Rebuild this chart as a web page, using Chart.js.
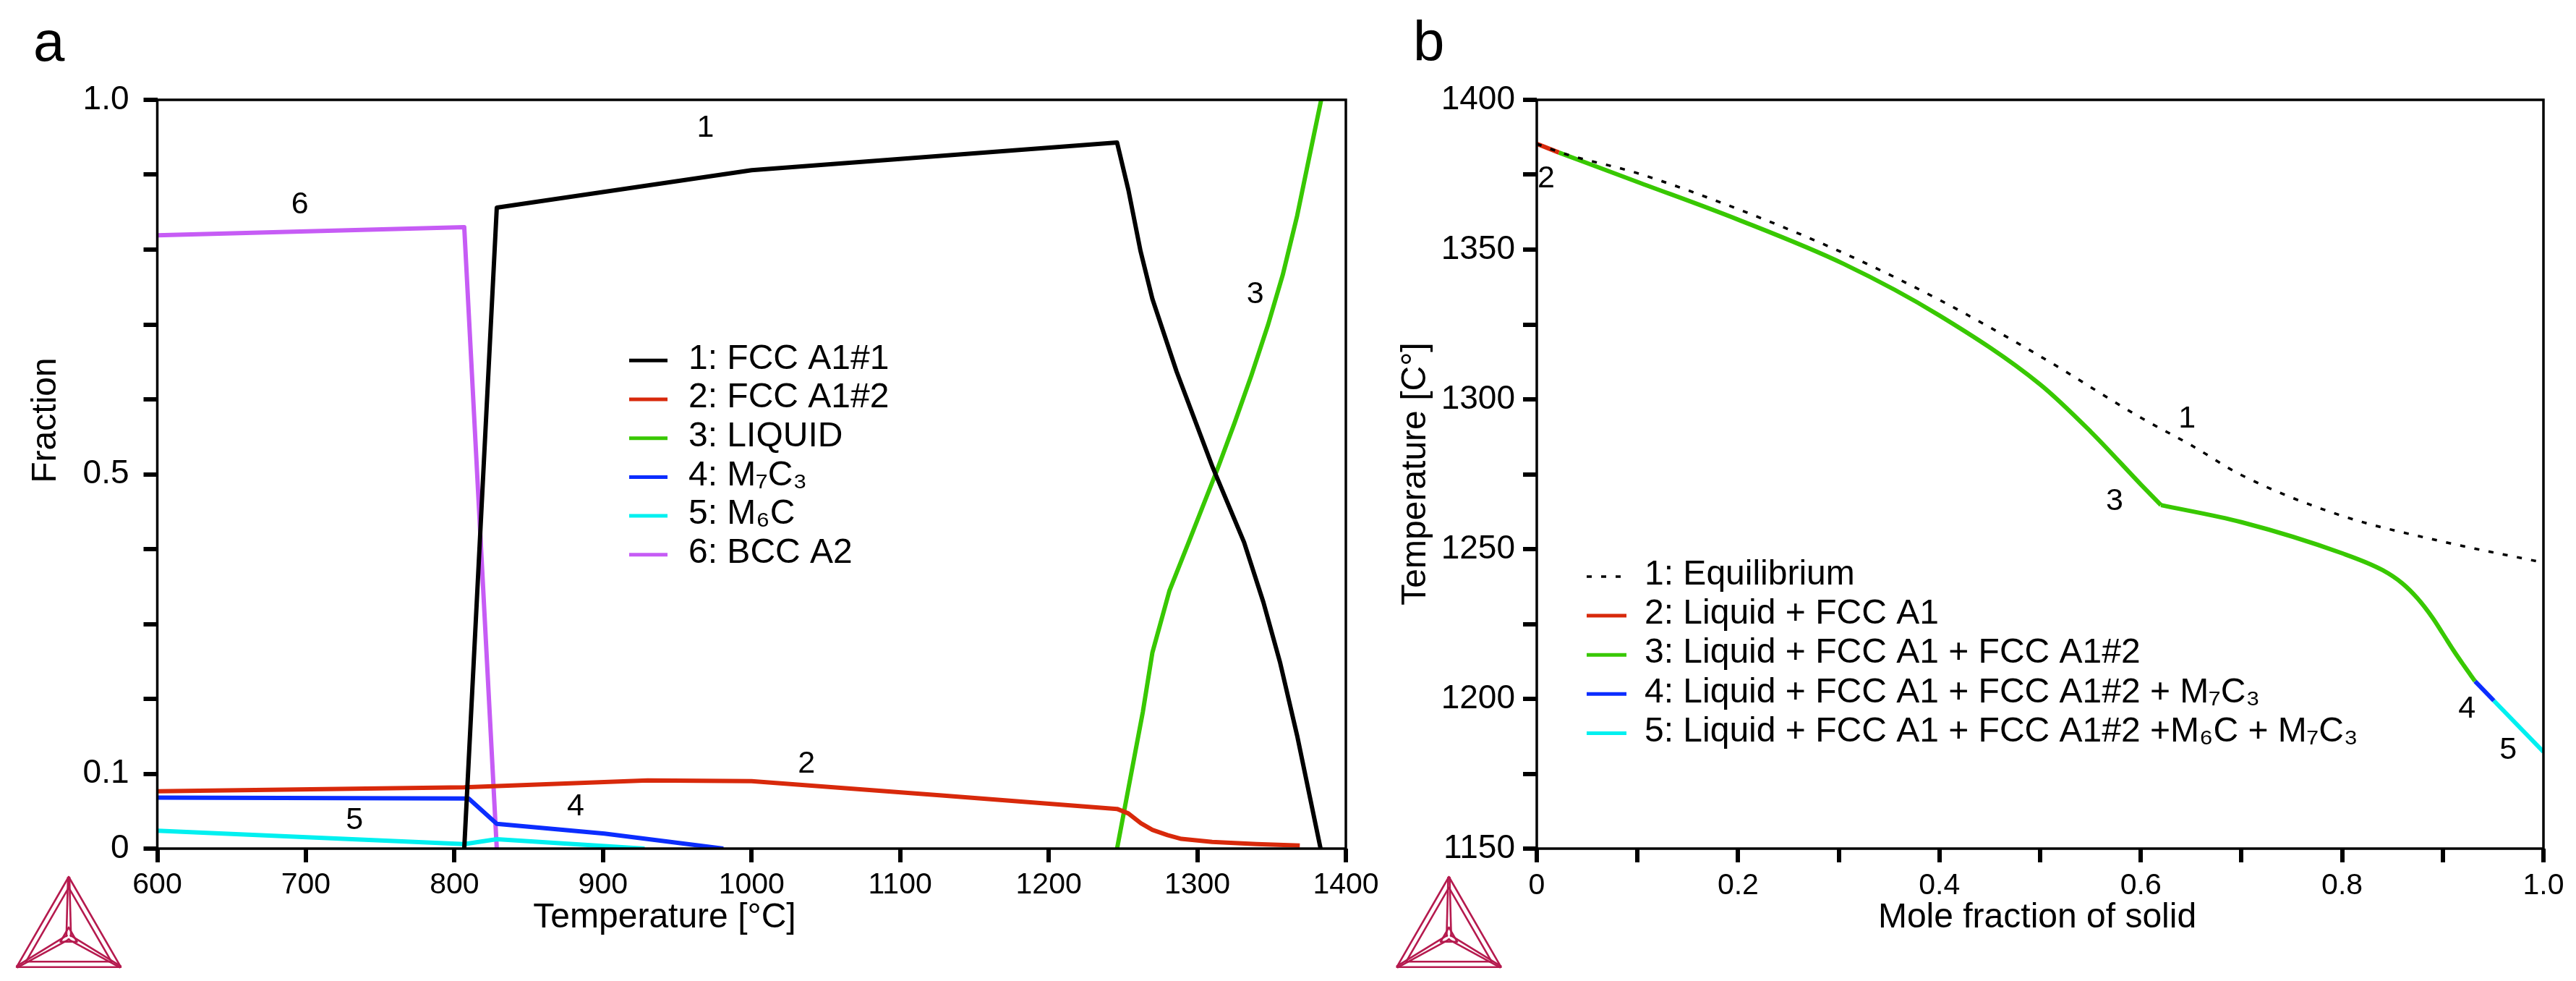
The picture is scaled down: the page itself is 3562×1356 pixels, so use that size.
<!DOCTYPE html>
<html>
<head>
<meta charset="utf-8">
<script src="https://cdn.jsdelivr.net/npm/chart.js@4.4.1/dist/chart.umd.min.js"></script>
<style>
html, body { margin: 0; padding: 0; background: #ffffff; }
#wrap { position: relative; width: 3562px; height: 1356px; overflow: hidden; background: #ffffff; }
canvas { position: absolute; left: 0; top: 0; }
</style>
</head>
<body>
<div id="wrap">
  <canvas id="chartA" width="3562" height="1356"></canvas>
  <canvas id="chartB" width="3562" height="1356"></canvas>
</div>
<script>
// ---------------- Panel a: phase fraction vs temperature ----------------
const phaseNames  = ['1: FCC A1#1', '2: FCC A1#2', '3: LIQUID', '4: M\u2087C\u2083', '5: M\u2086C', '6: BCC A2'];
const phaseColors = ['#000000', '#d8290b', '#38c800', '#0b2dff', '#00f0f0', '#c65cf5'];

const fcc1T = [806.6, 828.5, 1000, 1246, 1253.7, 1261.8, 1269.8, 1286.1, 1310.4, 1331.5, 1344.5, 1355.8, 1367.2, 1383];
const fcc1F = [0, 0.856, 0.906, 0.943, 0.879, 0.798, 0.734, 0.637, 0.509, 0.409, 0.329, 0.248, 0.151, 0];

const fcc2T = [600, 806.6, 930, 1000, 1128, 1246, 1253.6, 1262, 1269.8, 1280, 1289.3, 1310, 1340, 1369];
const fcc2F = [0.0765, 0.082, 0.091, 0.090, 0.071, 0.053, 0.047, 0.034, 0.025, 0.018, 0.013, 0.009, 0.006, 0.004];

const liqT = [1246, 1253.6, 1263.4, 1269.8, 1281.2, 1294.2, 1313.6, 1325, 1336.4, 1347.7, 1357.5, 1367.2, 1374.5, 1383.4];
const liqF = [0, 0.080, 0.183, 0.262, 0.344, 0.409, 0.507, 0.568, 0.632, 0.700, 0.766, 0.845, 0.915, 1.0];

const m7c3T = [600, 809.6, 828.5, 901, 981];
const m7c3F = [0.068, 0.067, 0.033, 0.020, 0];

const m6cT = [600, 806.6, 828.5, 928];
const m6cF = [0.024, 0.006, 0.0125, 0];

const bccT = [600, 806.6, 828.5];
const bccF = [0.819, 0.830, 0];

const tempTickStep = 100;
const fracLabelValues = [0, 0.1, 0.5, 1.0];
const fracLabelTexts  = ['0', '0.1', '0.5', '1.0'];

const curveLabelsA = ['1', '2', '3', '4', '5', '6'];
const curveLabelsAT = [969, 1037, 1339, 881.6, 732.8, 696];
const curveLabelsAF = [0.962, 0.113, 0.740, 0.056, 0.038, 0.860];

// ---------------- Panel b: solidification (Scheil) ----------------
const scheilNames  = ['1: Equilibrium', '2: Liquid + FCC A1', '3: Liquid + FCC A1 + FCC A1#2',
                      '4: Liquid + FCC A1 + FCC A1#2 + M\u2087C\u2083',
                      '5: Liquid + FCC A1 + FCC A1#2 +M\u2086C + M\u2087C\u2083'];
const scheilColors = ['#000000', '#d8290b', '#38c800', '#0b2dff', '#00f0f0'];
const scheilDashed = [true, false, false, false, false];

const eqX = [0, 0.0275, 0.1, 0.2, 0.305, 0.4, 0.5, 0.6, 0.65, 0.7, 0.8, 0.9, 1.0];
const eqT = [1385.3, 1382.0, 1375.5, 1363.5, 1348.8, 1333.2, 1314.4, 1293.9, 1284.7, 1274.7, 1261.1, 1252.5, 1245.5];

const seg2X = [0, 0.022];
const seg2T = [1385.3, 1382.4];

// segment 3 before and after the kink at fs = 0.62
const seg3aX = [0.022, 0.1, 0.2, 0.305, 0.4, 0.5, 0.55, 0.6, 0.62];
const seg3aT = [1382.4, 1372.6, 1360.0, 1345.2, 1328.0, 1305.0, 1289.3, 1271.6, 1264.7];
const seg3bX = [0.62, 0.7, 0.8, 0.84, 0.86, 0.875, 0.89, 0.9, 0.911, 0.921, 0.932];
const seg3bT = [1264.7, 1259.0, 1248.6, 1243.0, 1238.5, 1233.5, 1227.0, 1221.8, 1216.0, 1211.1, 1205.9];

const seg4X = [0.932, 0.9507];
const seg4T = [1205.9, 1199.4];

const seg5X = [0.9507, 1.0];
const seg5T = [1199.4, 1182.3];

const solidLabelValues = [0, 0.2, 0.4, 0.6, 0.8, 1.0];
const solidLabelTexts  = ['0', '0.2', '0.4', '0.6', '0.8', '1.0'];
const tempBLabelValues = [1150, 1200, 1250, 1300, 1350, 1400];

const curveLabelsB  = ['1', '2', '3', '4', '5'];
const curveLabelsBX = [0.646, 0.0093, 0.574, 0.924, 0.965];
const curveLabelsBT = [1293.5, 1373.7, 1265.8, 1196.6, 1182.9];

// ---------------- helpers ----------------
const FONT = '"Liberation Sans", Arial, Helvetica, sans-serif';
Chart.defaults.font.family = FONT;
Chart.defaults.color = '#000';

const pts = (xs, ys) => xs.map((x, i) => ({ x: x, y: ys[i] }));
const near = (arr, v) => arr.findIndex(t => Math.abs(t - v) < 1e-6);

function lineDs(label, xs, ys, color, width, dash, smooth) {
  return {
    label: label, data: pts(xs, ys), showLine: true,
    borderColor: color, backgroundColor: color, borderWidth: width,
    borderDash: dash || [], pointRadius: 0, pointHoverRadius: 0,
    tension: smooth ? 0.4 : 0, cubicInterpolationMode: smooth ? 'monotone' : 'default',
    fill: false, borderJoinStyle: 'round', borderCapStyle: 'butt'
  };
}

function drawLogo(ctx, cx, topY, w) {
  const h = w * 0.866;
  const A = [cx, topY], B = [cx - w / 2, topY + h], C = [cx + w / 2, topY + h];
  const O = [cx, topY + h * 2 / 3];
  const sc = (P, k) => [O[0] + (P[0] - O[0]) * k, O[1] + (P[1] - O[1]) * k];
  ctx.save();
  ctx.strokeStyle = '#b51a4e';
  ctx.lineWidth = 2.6;
  ctx.lineJoin = 'round';
  const tri = (P, Q, R) => { ctx.beginPath(); ctx.moveTo(P[0], P[1]); ctx.lineTo(Q[0], Q[1]); ctx.lineTo(R[0], R[1]); ctx.closePath(); ctx.stroke(); };
  tri(A, B, C);
  tri(sc(A, 0.82), sc(B, 0.82), sc(C, 0.82));
  [A, B, C].forEach(P => {
    const dx = P[0] - O[0], dy = P[1] - O[1];
    const len = Math.hypot(dx, dy);
    const nx = -dy / len * 3.2, ny = dx / len * 3.2;
    [-1, 1].forEach(s => {
      ctx.beginPath();
      ctx.moveTo(O[0] + nx * s, O[1] + ny * s);
      ctx.lineTo(P[0] + nx * s * 0.3, P[1] + ny * s * 0.3);
      ctx.stroke();
    });
  });
  tri(sc(A, 0.16), sc(B, 0.16), sc(C, 0.16));
  ctx.restore();
}

function drawText(ctx, text, x, y, size, align, baseline, rot) {
  ctx.save();
  ctx.font = size + 'px ' + FONT;
  ctx.fillStyle = '#000';
  ctx.textAlign = align;
  ctx.textBaseline = baseline;
  ctx.translate(x, y);
  if (rot) ctx.rotate(rot);
  ctx.fillText(text, 0, 0);
  ctx.restore();
}

function drawLegend(ctx, names, colors, dashed, x0, x1, tx, y0, dy) {
  names.forEach((name, i) => {
    const y = y0 + i * dy;
    ctx.save();
    ctx.strokeStyle = colors[i];
    ctx.lineWidth = dashed && dashed[i] ? 3.5 : 5;
    ctx.setLineDash(dashed && dashed[i] ? [7, 13] : []);
    ctx.beginPath(); ctx.moveTo(x0, y); ctx.lineTo(x1, y); ctx.stroke();
    ctx.restore();
    drawText(ctx, name, tx, y - 2, 48, 'left', 'middle');
  });
}

function frame(ctx, ca) {
  ctx.save();
  ctx.strokeStyle = '#000';
  ctx.lineWidth = 3.5;
  ctx.strokeRect(ca.left, ca.top, ca.right - ca.left, ca.bottom - ca.top);
  ctx.restore();
}

const commonGrid = { display: true, drawOnChartArea: false, drawTicks: true, tickLength: 19, tickWidth: 6, tickColor: '#000', color: '#000', lineWidth: 0 };

// ---------------- Chart a ----------------
const plotA = { left: 217.5, right: 1861, top: 138, bottom: 1173 };

const annotA = {
  id: 'annotA',
  afterDraw(chart) {
    const { ctx, chartArea, scales } = chart;
    frame(ctx, chartArea);
    curveLabelsA.forEach((t, i) => {
      drawText(ctx, t, scales.x.getPixelForValue(curveLabelsAT[i]), scales.y.getPixelForValue(curveLabelsAF[i]), 43, 'center', 'middle');
    });
    drawLegend(ctx, phaseNames, phaseColors, null, 870, 923, 952, 498.3, 53.7);
    drawText(ctx, 'Temperature [\u00B0C]', 919, 1282, 48, 'center', 'alphabetic');
    drawText(ctx, 'Fraction', 77, 581, 48, 'center', 'alphabetic', -Math.PI / 2);
    drawText(ctx, 'a', 46, 84, 78, 'left', 'alphabetic');
    drawLogo(ctx, 95, 1212, 144);
  }
};

new Chart(document.getElementById('chartA'), {
  type: 'scatter',
  data: {
    datasets: [
      lineDs(phaseNames[0], fcc1T, fcc1F, phaseColors[0], 6),
      lineDs(phaseNames[1], fcc2T, fcc2F, phaseColors[1], 6),
      lineDs(phaseNames[2], liqT, liqF, phaseColors[2], 6),
      lineDs(phaseNames[3], m7c3T, m7c3F, phaseColors[3], 6),
      lineDs(phaseNames[4], m6cT, m6cF, phaseColors[4], 6),
      lineDs(phaseNames[5], bccT, bccF, phaseColors[5], 6)
    ]
  },
  options: {
    responsive: false, animation: false, devicePixelRatio: 1,
    layout: { padding: { left: 0, top: plotA.top, right: 3562 - plotA.right, bottom: 0 } },
    plugins: { legend: { display: false }, tooltip: { enabled: false }, title: { display: false } },
    scales: {
      x: {
        type: 'linear', min: 600, max: 1400,
        ticks: { stepSize: tempTickStep, autoSkip: false, maxRotation: 0, minRotation: 0, padding: 7,
                 font: { size: 41 }, color: '#000', callback: v => String(Math.round(v)) },
        grid: commonGrid, border: { display: false },
        afterFit: s => { s.height = 1356 - plotA.bottom; s.paddingLeft = 0; s.paddingRight = 0; }
      },
      y: {
        type: 'linear', min: 0, max: 1,
        ticks: { stepSize: 0.1, autoSkip: false, padding: 20, font: { size: 46 }, color: '#000',
                 callback: v => { const i = near(fracLabelValues, v); return i >= 0 ? fracLabelTexts[i] : ''; } },
        grid: commonGrid, border: { display: false },
        afterFit: s => { s.width = plotA.left; s.paddingTop = 0; s.paddingBottom = 0; }
      }
    }
  },
  plugins: [annotA]
});

// ---------------- Chart b ----------------
const plotB = { left: 2125, right: 3517, top: 138, bottom: 1173 };

const annotB = {
  id: 'annotB',
  afterDraw(chart) {
    const { ctx, chartArea, scales } = chart;
    frame(ctx, chartArea);
    curveLabelsB.forEach((t, i) => {
      drawText(ctx, t, scales.x.getPixelForValue(curveLabelsBX[i]), scales.y.getPixelForValue(curveLabelsBT[i]), 43, 'center', 'middle');
    });
    drawLegend(ctx, scheilNames, scheilColors, scheilDashed, 2194, 2249, 2274, 797, 54.1);
    drawText(ctx, 'Mole fraction of solid', 2817, 1282, 48, 'center', 'alphabetic');
    drawText(ctx, 'Temperature [C\u00B0]', 1971, 655, 48, 'center', 'alphabetic', -Math.PI / 2);
    drawText(ctx, 'b', 1954, 84, 78, 'left', 'alphabetic');
    drawLogo(ctx, 2003.5, 1212, 144);
  }
};

new Chart(document.getElementById('chartB'), {
  type: 'scatter',
  data: {
    datasets: [
      lineDs(scheilNames[0], eqX, eqT, scheilColors[0], 3.5, [7, 13], true),
      lineDs(scheilNames[1], seg2X, seg2T, scheilColors[1], 6),
      lineDs(scheilNames[2], seg3aX, seg3aT, scheilColors[2], 6, null, true),
      lineDs(scheilNames[2], seg3bX, seg3bT, scheilColors[2], 6, null, true),
      lineDs(scheilNames[3], seg4X, seg4T, scheilColors[3], 6),
      lineDs(scheilNames[4], seg5X, seg5T, scheilColors[4], 6)
    ]
  },
  options: {
    responsive: false, animation: false, devicePixelRatio: 1,
    layout: { padding: { left: 0, top: plotB.top, right: 3562 - plotB.right, bottom: 0 } },
    plugins: { legend: { display: false }, tooltip: { enabled: false }, title: { display: false } },
    scales: {
      x: {
        type: 'linear', min: 0, max: 1,
        ticks: { stepSize: 0.1, autoSkip: false, maxRotation: 0, minRotation: 0, padding: 8,
                 font: { size: 41 }, color: '#000',
                 callback: v => { const i = near(solidLabelValues, v); return i >= 0 ? solidLabelTexts[i] : ''; } },
        grid: commonGrid, border: { display: false },
        afterFit: s => { s.height = 1356 - plotB.bottom; s.paddingLeft = 0; s.paddingRight = 0; }
      },
      y: {
        type: 'linear', min: 1150, max: 1400,
        ticks: { stepSize: 25, autoSkip: false, padding: 11, font: { size: 46 }, color: '#000',
                 callback: v => (near(tempBLabelValues, v) >= 0 ? String(Math.round(v)) : '') },
        grid: commonGrid, border: { display: false },
        afterFit: s => { s.width = plotB.left; s.paddingTop = 0; s.paddingBottom = 0; }
      }
    }
  },
  plugins: [annotB]
});
</script>
</body>
</html>
